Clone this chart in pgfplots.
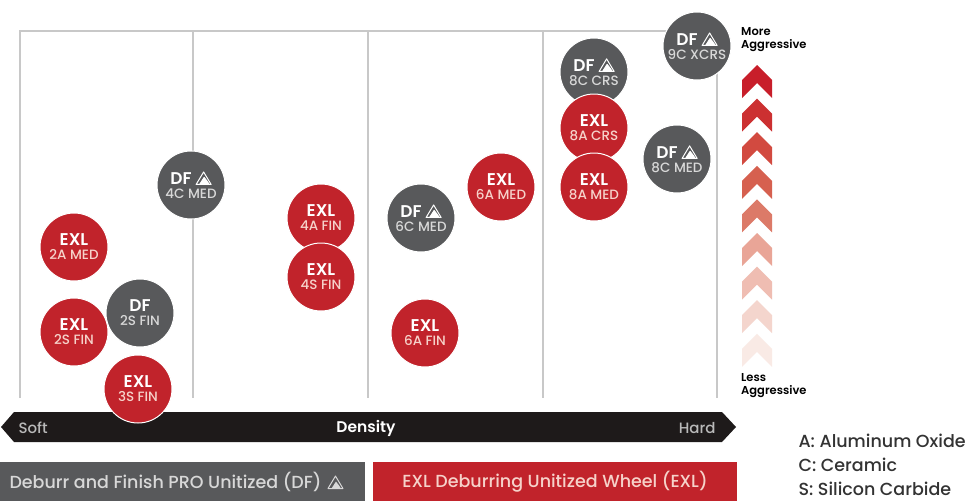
\documentclass[border=0pt]{standalone}
\usepackage{pgfplots}
\pgfplotsset{compat=1.18}
\usepackage{fontspec}
\setmainfont{Poppins}[UprightFont={* Medium},BoldFont={* SemiBold}]
\definecolor{exlred}{HTML}{C1232B}
\definecolor{dfgray}{HTML}{58595B}
\definecolor{gridgray}{HTML}{C8C8C8}
\definecolor{subred}{HTML}{F6D2CA}
\definecolor{subgray}{HTML}{D8D8D8}
\definecolor{keytext}{HTML}{333333}
\definecolor{barblack}{HTML}{1E1A1A}
\definecolor{cA}{HTML}{C81E2A}
\definecolor{cB}{HTML}{CC3031}
\definecolor{cC}{HTML}{D24A40}
\definecolor{cD}{HTML}{D6604F}
\definecolor{cE}{HTML}{DC7A68}
\definecolor{cF}{HTML}{E9A597}
\definecolor{cG}{HTML}{EFBDB2}
\definecolor{cH}{HTML}{F4D5CD}
\definecolor{cI}{HTML}{F9EAE5}
\newcommand\dficon{\tikz[baseline=0pt,line width=1pt,line join=round]{\draw (0,0)--(15pt,0)--(7.5pt,12.5pt)--cycle; \fill (3.5pt,0)--(8pt,7pt)--(11.5pt,2.5pt)--(13pt,0)--cycle;}}
\pgfplotsset{
  bub/.style n args={3}{only marks,mark=*,mark size=34pt,
    mark options={fill=#1,draw=white,line width=1pt},
    point meta=explicit symbolic,
    nodes near coords={{\bfseries\fontsize{17}{17}\selectfont #2}\\[2pt]{\color{#3}\fontsize{13.5}{13.5}\selectfont\pgfplotspointmeta}},
    nodes near coords align=center,
    every node near coord/.style={align=center,text=white,anchor=center,inner sep=0pt}},
}
\begin{document}
\begin{tikzpicture}
\begin{axis}[width=970pt,height=501pt,scale only axis,
  xmin=0,xmax=970,ymin=0,ymax=501,y dir=reverse,hide axis,clip=false]
% background
\addplot[fill=white,draw=none] coordinates {(0,0)(970,0)(970,501)(0,501)} -- cycle;
% frame and grid
\addplot[gridgray,line width=2pt] coordinates {(20,398)(20,31)(717,31)(717,398)};
\addplot[gridgray,line width=1.5pt] coordinates {(193,31)(193,398)};
\addplot[gridgray,line width=1.5pt] coordinates {(368,31)(368,398)};
\addplot[gridgray,line width=1.5pt] coordinates {(543,31)(543,398)};
% density bar
\addplot[fill=barblack,draw=none] coordinates {(1,427)(14,412)(722,412)(736,427)(722,442)(14,442)} -- cycle;
% DF bubbles
\addplot[bub={dfgray}{DF \dficon}{subgray}] coordinates {
 (191,185) [4C MED] (421,218) [6C MED] (594,72) [8C CRS] (677,159) [8C MED] (697,46) [9C XCRS]};
\addplot[bub={dfgray}{DF}{subgray}] coordinates {(140,313) [2S FIN]};
% EXL bubbles
\addplot[bub={exlred}{EXL}{subred}] coordinates {
 (74,247) [2A MED] (74,332) [2S FIN] (138,389) [3S FIN] (321,218) [4A FIN] (321,277) [4S FIN]
 (501,187) [6A MED] (425,333) [6A FIN] (594,128) [8A CRS] (594,187) [8A MED]};
% bar texts
\node[text=gridgray!80!gray,font=\fontsize{15}{15}\selectfont,anchor=west] at (axis cs:15,428) {Soft};
\node[text=white,font=\bfseries\fontsize{15.5}{15.5}\selectfont] at (axis cs:366,428) {Density};
\node[text=gridgray!80!gray,font=\fontsize{15}{15}\selectfont,anchor=east] at (axis cs:719,428) {Hard};
% legend boxes
\addplot[fill=dfgray,draw=none] coordinates {(0,462)(365,462)(365,501)(0,501)} -- cycle;
\addplot[fill=exlred,draw=none] coordinates {(373,462)(737,462)(737,501)(373,501)} -- cycle;
\node[text=subgray,font=\fontsize{17.5}{17.5}\selectfont,anchor=west] at (axis cs:6,482) {Deburr and Finish PRO Unitized (DF)\hspace{6pt}\dficon};
\node[text=subred,font=\fontsize{17.5}{17.5}\selectfont] at (axis cs:555,482) {EXL Deburring Unitized Wheel (EXL)};
% key
\node[text=keytext,font=\fontsize{17.5}{17.5}\selectfont,anchor=west] at (axis cs:795,441) {A: Aluminum Oxide};
\node[text=keytext,font=\fontsize{17.5}{17.5}\selectfont,anchor=west] at (axis cs:795,465) {C: Ceramic};
\node[text=keytext,font=\fontsize{17.5}{17.5}\selectfont,anchor=west] at (axis cs:795,489) {S: Silicon Carbide};
% chevrons
\addplot[fill=cA,draw=none] coordinates {(757,65)(772,80)(772,98)(757,83)(742,98)(742,80)} -- cycle;
\addplot[fill=cB,draw=none] coordinates {(757,98.6)(772,113.6)(772,131.6)(757,116.6)(742,131.6)(742,113.6)} -- cycle;
\addplot[fill=cC,draw=none] coordinates {(757,132.2)(772,147.2)(772,165.2)(757,150.2)(742,165.2)(742,147.2)} -- cycle;
\addplot[fill=cD,draw=none] coordinates {(757,165.8)(772,180.8)(772,198.8)(757,183.8)(742,198.8)(742,180.8)} -- cycle;
\addplot[fill=cE,draw=none] coordinates {(757,199.4)(772,214.4)(772,232.4)(757,217.4)(742,232.4)(742,214.4)} -- cycle;
\addplot[fill=cF,draw=none] coordinates {(757,233)(772,248)(772,266)(757,251)(742,266)(742,248)} -- cycle;
\addplot[fill=cG,draw=none] coordinates {(757,266.6)(772,281.6)(772,299.6)(757,284.6)(742,299.6)(742,281.6)} -- cycle;
\addplot[fill=cH,draw=none] coordinates {(757,300.2)(772,315.2)(772,333.2)(757,318.2)(742,333.2)(742,315.2)} -- cycle;
\addplot[fill=cI,draw=none] coordinates {(757,333.8)(772,348.8)(772,366.8)(757,351.8)(742,366.8)(742,348.8)} -- cycle;
\node[text=black,font=\bfseries\fontsize{11.5}{13}\selectfont,anchor=north west,align=left,inner sep=0pt] at (axis cs:741,27) {More\\Aggressive};
\node[text=black,font=\bfseries\fontsize{11.5}{13}\selectfont,anchor=north west,align=left,inner sep=0pt] at (axis cs:741,373) {Less\\Aggressive};
\end{axis}
\end{tikzpicture}
\end{document}
